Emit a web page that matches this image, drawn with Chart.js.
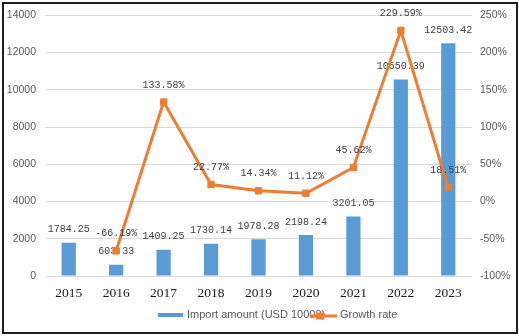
<!DOCTYPE html>
<html><head><meta charset="utf-8">
<script src="https://cdn.jsdelivr.net/npm/chart.js@4/dist/chart.umd.min.js"></script>
<style>html,body{margin:0;padding:0;background:#fff;}canvas{display:block}</style>
</head><body>
<canvas id="c" width="519" height="336"></canvas>
<script>
const years = ['2015','2016','2017','2018','2019','2020','2021','2022','2023'];
const importAmount = [1784.25, 603.33, 1409.25, 1730.14, 1978.28, 2198.24, 3201.05, 10550.39, 12503.42];
const growthRate = [null, -66.19, 133.58, 22.77, 14.34, 11.12, 45.62, 229.59, 18.51];
const leftMin = 0, leftMax = 14000, leftStep = 2000;
const rightMin = -100, rightMax = 250, rightStep = 50;
const seriesNames = ['Import amount (USD 10000)', 'Growth rate'];

const BLUE = '#5B9BD5', ORANGE = '#ED7D31', LABEL = '#404040', AXIS = '#595959';
const labelFont = '10px "Liberation Mono", "DejaVu Sans Mono", monospace';
const legendFont = '11px "Liberation Sans", Arial, sans-serif';

const framePlugin = {
  id: 'frame',
  beforeDraw(chart) {
    const ctx = chart.ctx; ctx.save();
    ctx.fillStyle = '#fff'; ctx.fillRect(0, 0, chart.width, chart.height);
    ctx.restore();
  },
  afterDraw(chart) {
    const ctx = chart.ctx; ctx.save();
    // legend (drawn from the dataset styles and names)
    const ds = chart.data.datasets;
    const ly = 315;
    ctx.font = legendFont; ctx.textBaseline = 'middle'; ctx.textAlign = 'left'; ctx.fillStyle = AXIS;
    ctx.fillStyle = ds[0].backgroundColor;
    ctx.fillRect(158, ly - 2, 25, 4);
    ctx.fillStyle = AXIS;
    ctx.fillText(ds[0].label, 187, ly);
    ctx.strokeStyle = ds[1].borderColor; ctx.lineWidth = 3;
    ctx.beginPath(); ctx.moveTo(310, ly + 1); ctx.lineTo(337, ly + 1); ctx.stroke();
    ctx.fillStyle = ds[1].borderColor;
    ctx.fillRect(316, ly - 2.5, 8, 7);
    ctx.fillStyle = AXIS;
    ctx.fillText(ds[1].label, 340, ly);
    // frame
    ctx.strokeStyle = '#1e1e1e'; ctx.lineWidth = 2;
    ctx.strokeRect(3, 3, 514, 330);
    ctx.restore();
  }
};

const labelPlugin = {
  id: 'vlabels',
  afterDatasetDraw(chart, args) {
    if (args.index !== 0) return;
    const ctx = chart.ctx; ctx.save();
    ctx.font = labelFont; ctx.fillStyle = LABEL; ctx.textAlign = 'center'; ctx.textBaseline = 'middle';
    args.meta.data.forEach((el, i) => {
      ctx.fillText(importAmount[i].toFixed(2), el.x, el.y - 13);
    });
    ctx.restore();
  },
  afterDatasetsDraw(chart) {
    const ctx = chart.ctx; ctx.save();
    ctx.font = labelFont; ctx.fillStyle = LABEL; ctx.textAlign = 'center'; ctx.textBaseline = 'middle';
    chart.getDatasetMeta(1).data.forEach((el, i) => {
      if (growthRate[i] == null) return;
      ctx.fillText(growthRate[i].toFixed(2) + '%', el.x, el.y - 17);
    });
    ctx.restore();
  }
};

new Chart(document.getElementById('c'), {
  data: {
    labels: years,
    datasets: [
      { type: 'bar', label: seriesNames[0], data: importAmount, backgroundColor: BLUE, borderWidth: 0,
        yAxisID: 'y', order: 1, barPercentage: 0.3, categoryPercentage: 1 },
      { type: 'line', label: seriesNames[1], data: growthRate, borderColor: ORANGE, backgroundColor: ORANGE,
        borderWidth: 3, pointStyle: 'rect', pointRadius: 4.5, pointBorderWidth: 1, pointBackgroundColor: ORANGE,
        pointBorderColor: ORANGE, yAxisID: 'y1', order: 0, tension: 0, spanGaps: false }
    ]
  },
  options: {
    responsive: false, animation: false,
    layout: { padding: { top: 11, left: 0, right: 0, bottom: 30 } },
    plugins: { tooltip: { enabled: false }, legend: { display: false } },
    scales: {
      x: {
        grid: { display: false, drawTicks: false }, border: { display: false },
        ticks: { color: '#1a1a1a', padding: 9, font: { family: '"Liberation Serif", "Times New Roman", serif', size: 13.5 } },
        afterFit(s) { s.height = 30; }
      },
      y: {
        position: 'left', min: leftMin, max: leftMax,
        ticks: { stepSize: leftStep, color: AXIS, padding: 9, callback: v => String(v),
          font: { family: '"Liberation Sans", Arial, sans-serif', size: 10.5 } },
        grid: { color: '#D9D9D9', lineWidth: 1, drawTicks: false }, border: { display: false },
        afterFit(s) { s.width = 45; }
      },
      y1: {
        position: 'right', min: rightMin, max: rightMax,
        ticks: { stepSize: rightStep, color: AXIS, padding: 8, callback: v => v + '%',
          font: { family: '"Liberation Sans", Arial, sans-serif', size: 10.5 } },
        grid: { display: false, drawTicks: false }, border: { display: false },
        afterFit(s) { s.width = 47; }
      }
    }
  },
  plugins: [framePlugin, labelPlugin]
});
</script>
</body></html>
